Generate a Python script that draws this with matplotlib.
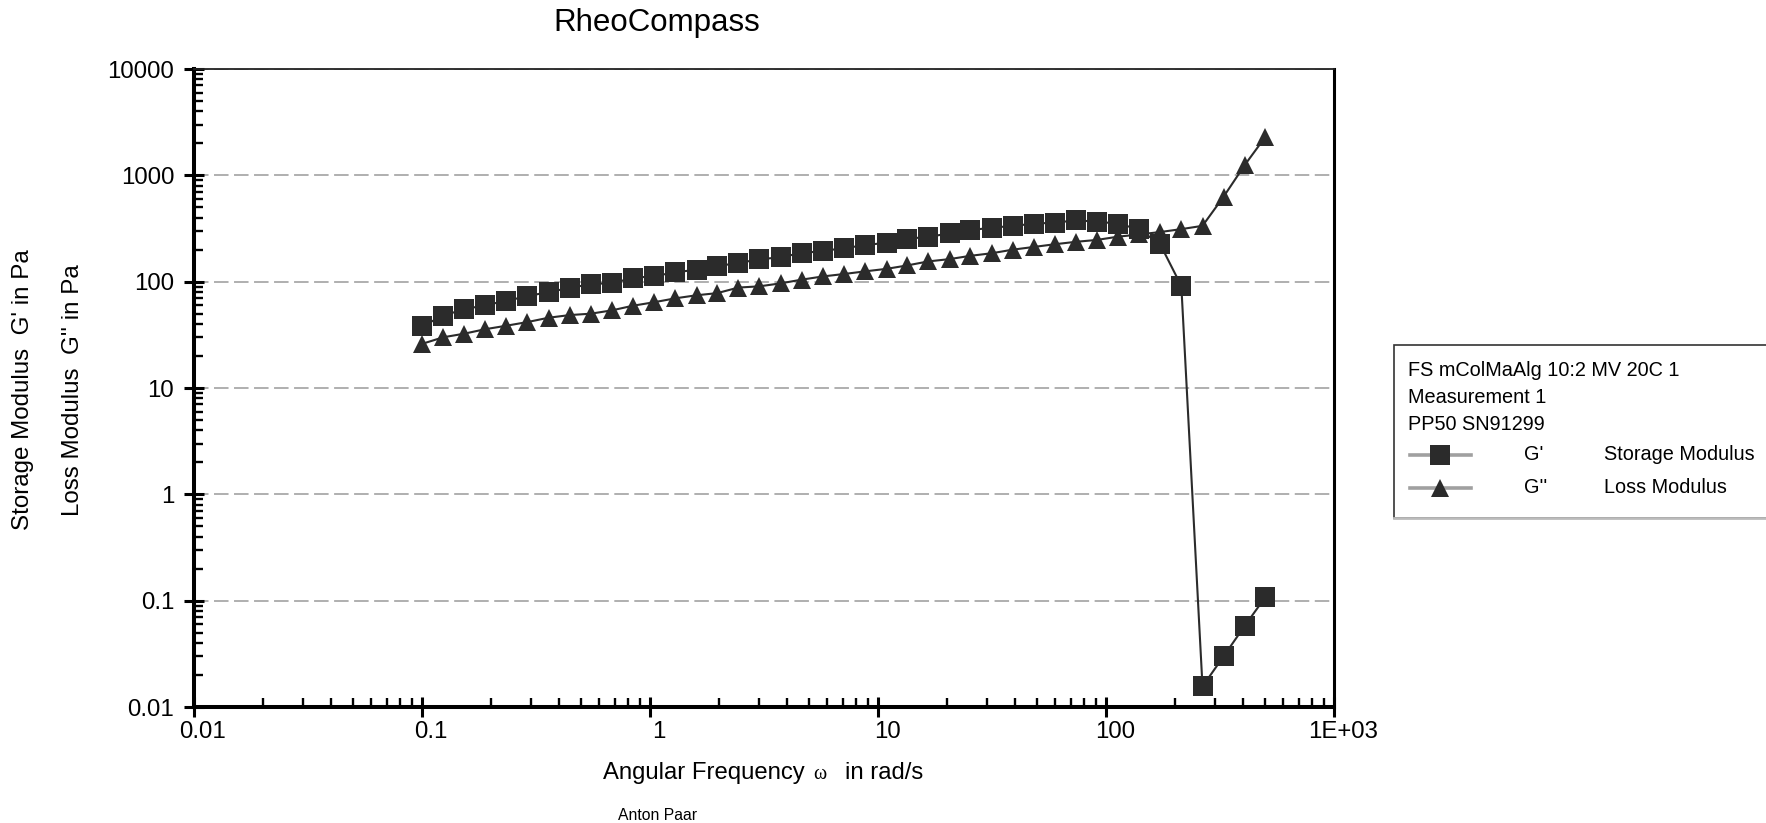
import matplotlib
matplotlib.use("Agg")
import matplotlib.pyplot as plt
from matplotlib.ticker import LogLocator, FixedLocator, FixedFormatter, NullFormatter
from matplotlib.lines import Line2D
from matplotlib.patches import Rectangle
from matplotlib.transforms import ScaledTranslation

plt.rcParams['font.family'] = ['Liberation Sans', 'DejaVu Sans']

# ---------------- data ----------------
omega = [0.1, 0.124, 0.153, 0.189, 0.234, 0.29, 0.359, 0.444, 0.55, 0.68,
         0.842, 1.04, 1.29, 1.6, 1.97, 2.44, 3.02, 3.74, 4.63, 5.73,
         7.09, 8.77, 10.9, 13.4, 16.6, 20.6, 25.4, 31.5, 39.0, 48.2,
         59.7, 73.8, 91.3, 113, 140, 173, 214, 265, 328, 406, 500]
g_storage = [38, 48, 55, 60, 66, 73, 80, 87, 95, 97,
             108, 113, 122, 130, 140, 150, 162, 170, 186, 194,
             207, 220, 233, 254, 263, 285, 305, 322, 334, 351,
             359, 377, 367, 351, 310, 224, 91, 0.0156, 0.030, 0.058, 0.108]
g_loss = [26, 30, 32.4, 35.7, 38.5, 41.7, 45.8, 48.5, 50, 53.7,
          59.4, 64, 69.7, 74.5, 78, 88, 90.4, 96.4, 104.5, 112,
          118, 125, 132, 142, 155, 163, 175, 185, 200, 212,
          225, 237, 247, 265, 278, 293, 312, 335, 630, 1250, 2300]

x_ticks = [0.01, 0.1, 1, 10, 100, 1000]
x_ticklabels = ["0.01", "0.1", "1", "10", "100", "1E+03"]
y_ticks = [0.01, 0.1, 1, 10, 100, 1000, 10000]
y_ticklabels = ["0.01", "0.1", "1", "10", "100", "1000", "10000"]

title = "RheoCompass"
legend_header = ["FS mColMaAlg 10:2 MV 20C 1", "Measurement 1", "PP50 SN91299"]
series_symbols = ["G'", "G''"]
series_names = ["Storage Modulus", "Loss Modulus"]

# ---------------- figure ----------------
W, H = 1766, 823
fig = plt.figure(figsize=(W / 100, H / 100), dpi=100)
fig.patch.set_facecolor("white")

def fx(px):
    return px / W

def fy(py):
    return 1 - py / H

ax_l, ax_r, ax_t, ax_b = 194, 1334, 69, 707
ax = fig.add_axes([fx(ax_l), fy(ax_b), fx(ax_r) - fx(ax_l), fy(ax_t) - fy(ax_b)])
ax.set_xscale("log")
ax.set_yscale("log")
ax.set_xlim(0.01, 1000)
ax.set_ylim(0.01, 10000)

mark_col = "#2b2b2b"
ax.plot(omega, g_loss, color=mark_col, lw=1.5, marker="^", markersize=12.5,
        markeredgewidth=0, markerfacecolor=mark_col, zorder=3, clip_on=False)
ax.plot(omega, g_storage, color=mark_col, lw=1.5, marker="s", markersize=14.8,
        markeredgewidth=0, markerfacecolor=mark_col, zorder=4, clip_on=False)

# grid
for yv in y_ticks[1:]:
    ax.axhline(yv, color="#9a9a9a", lw=1.1, dashes=(9.5, 3.6), zorder=1)

# spines
for s in ["left", "bottom"]:
    ax.spines[s].set_linewidth(2.9)
    ax.spines[s].set_color("black")
ax.spines["top"].set_linewidth(1.3)
ax.spines["top"].set_color("#222222")
ax.spines["right"].set_linewidth(2.2)
ax.spines["right"].set_color("black")

# ticks
ax.xaxis.set_major_locator(FixedLocator(x_ticks))
ax.xaxis.set_major_formatter(FixedFormatter(x_ticklabels))
ax.yaxis.set_major_locator(FixedLocator(y_ticks))
ax.yaxis.set_major_formatter(FixedFormatter(y_ticklabels))
ax.xaxis.set_minor_locator(LogLocator(base=10, subs=range(2, 10), numticks=50))
ax.yaxis.set_minor_locator(LogLocator(base=10, subs=range(2, 10), numticks=50))
ax.xaxis.set_minor_formatter(NullFormatter())
ax.yaxis.set_minor_formatter(NullFormatter())
ax.tick_params(which="major", direction="inout", length=14.4, width=2.2,
               labelsize=17.3, colors="black")
ax.tick_params(which="minor", direction="in", length=6.5, width=1.7, colors="black")
ax.tick_params(axis="y", which="major", pad=7)
ax.tick_params(axis="x", which="major", pad=3)
ax.tick_params(top=False, right=False, which="both")

shift = ScaledTranslation(9 / 100, 0, fig.dpi_scale_trans)
for lab in ax.get_xticklabels():
    lab.set_transform(lab.get_transform() + shift)

# title
fig.text(fx(657), fy(23), title, ha="center", va="center", fontsize=22.5)

# x label composed of parts
base_y = fy(779)
fig.text(fx(603), base_y, "Angular Frequency", ha="left", va="baseline", fontsize=17.2)
fig.text(fx(813), base_y, "ω", ha="left", va="baseline", fontsize=14.5,
         family=["Liberation Serif", "DejaVu Serif"])
fig.text(fx(845), base_y, "in rad/s", ha="left", va="baseline", fontsize=17.2)

# y labels
fig.text(fx(23), fy(390), "Storage Modulus  G' in Pa", rotation=90,
         ha="center", va="center", fontsize=17.4)
fig.text(fx(73), fy(390), "Loss Modulus  G'' in Pa", rotation=90,
         ha="center", va="center", fontsize=17.4)

# footer
fig.text(fx(618), fy(820), "Anton Paar", ha="left", va="baseline", fontsize=11.3)

# legend box
box = Rectangle((fx(1394), fy(518)), fx(1780) - fx(1394), fy(345) - fy(518),
                transform=fig.transFigure, facecolor="white",
                edgecolor="#333333", lw=1.2, zorder=0)
fig.add_artist(box)
bot = Line2D([fx(1394), fx(1780)], [fy(518), fy(518)], transform=fig.transFigure,
             color="#bbbbbb", lw=2)
fig.add_artist(bot)

row_y = [370.5, 397.5, 424.5]
for txt, yy in zip(legend_header, row_y):
    fig.text(fx(1408), fy(yy), txt, ha="left", va="center", fontsize=14.3)

leg_rows = [455, 487.5]
leg_markers = ["s", "^"]
leg_sizes = [14.8, 12.5]
for sym, name, yy, mk, ms in zip(series_symbols, series_names, leg_rows, leg_markers, leg_sizes):
    ln = Line2D([fx(1410), fx(1471)], [fy(yy), fy(yy)], transform=fig.transFigure,
                color="#a0a0a0", lw=2.6)
    fig.add_artist(ln)
    mkr = Line2D([fx(1440)], [fy(yy)], transform=fig.transFigure, marker=mk,
                 markersize=ms, markerfacecolor=mark_col, markeredgewidth=0,
                 linestyle="none")
    fig.add_artist(mkr)
    fig.text(fx(1524), fy(yy), sym, ha="left", va="center", fontsize=14.3)
    fig.text(fx(1604), fy(yy), name, ha="left", va="center", fontsize=14.3)

fig.savefig("out.png", dpi=100, facecolor="white")
